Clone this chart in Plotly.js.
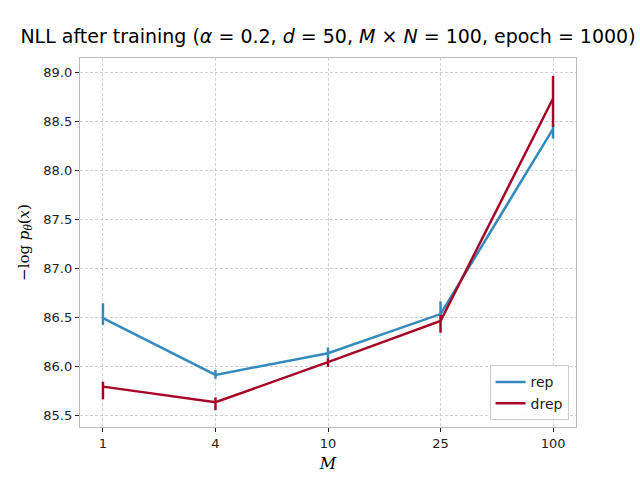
<!DOCTYPE html>
<html>
<head>
<meta charset="utf-8">
<script src="https://cdn.plot.ly/plotly-3.0.1.min.js"></script>
<style>html,body{margin:0;padding:0;background:#fff;}</style>
</head>
<body>
<div id="chart" style="width:640px;height:480px;"></div>
<script>
const categories = ["1", "4", "10", "25", "100"];
const repValues = [86.49, 85.91, 86.13, 86.53, 88.42];
const repErrPlus = [0.15, 0.05, 0.06, 0.13, 0.05];
const repErrMinus = [0.07, 0.04, 0.05, 0.02, 0.10];
const drepValues = [85.79, 85.63, 86.04, 86.46, 88.73];
const drepErrPlus = [0.05, 0.05, 0.04, 0.06, 0.23];
const drepErrMinus = [0.13, 0.08, 0.05, 0.12, 0.29];

const traces = [
  {
    x: categories, y: repValues, name: "rep", type: "scatter", mode: "lines",
    line: {color: "#348ABD", width: 2.5},
    error_y: {type: "data", symmetric: false, array: repErrPlus, arrayminus: repErrMinus,
              color: "#348ABD", thickness: 2.5, width: 0}
  },
  {
    x: categories, y: drepValues, name: "drep", type: "scatter", mode: "lines",
    line: {color: "#A60628", width: 2.5},
    error_y: {type: "data", symmetric: false, array: drepErrPlus, arrayminus: drepErrMinus,
              color: "#A60628", thickness: 2.5, width: 0}
  }
];

const layout = {
  width: 640, height: 480,
  margin: {l: 80, r: 64, t: 58, b: 53},
  paper_bgcolor: "#ffffff", plot_bgcolor: "#ffffff",
  font: {family: "DejaVu Sans", size: 13, color: "#222"},
  title: {
    text: "NLL after training (<i>α</i> = 0.2, <i>d</i> = 50, <i>M</i> × <i>N</i> = 100, epoch = 1000)",
    font: {family: "DejaVu Sans", size: 19, color: "#000"},
    x: 0.5125, xanchor: "center", y: 0.925, yanchor: "middle"
  },
  xaxis: {
    type: "category", range: [-0.204, 4.204],
    title: {text: "<i>M</i>", font: {family: "DejaVu Serif", size: 16, color: "#000"}, standoff: 8},
    showgrid: true, gridcolor: "#bdbdbd", griddash: "3px,2px", gridwidth: 0.7,
    showline: true, linecolor: "#bcbcbc", linewidth: 1.2, mirror: true,
    ticks: "outside", ticklen: 4, tickcolor: "#222", zeroline: false,
    tickfont: {family: "DejaVu Sans", size: 13, color: "#222"}
  },
  yaxis: {
    range: [85.378, 89.143], tickvals: [85.5, 86.0, 86.5, 87.0, 87.5, 88.0, 88.5, 89.0],
    tickformat: ".1f",
    title: {text: "−log <i>p<sub>θ</sub></i>(<i>x</i>)", font: {family: "DejaVu Serif", size: 15, color: "#000"}, standoff: 10},
    showgrid: true, gridcolor: "#bdbdbd", griddash: "3px,2px", gridwidth: 0.7,
    showline: true, linecolor: "#bcbcbc", linewidth: 1.2, mirror: true,
    ticks: "outside", ticklen: 4, tickcolor: "#222", zeroline: false,
    tickfont: {family: "DejaVu Sans", size: 13, color: "#222"}
  },
  showlegend: true,
  legend: {
    x: 0.985, y: 0.018, xanchor: "right", yanchor: "bottom",
    bgcolor: "rgba(255,255,255,0.9)", bordercolor: "#cccccc", borderwidth: 1,
    font: {family: "DejaVu Sans", size: 14, color: "#222"}
  }
};

Plotly.newPlot("chart", traces, layout, {displayModeBar: false, staticPlot: true});
</script>
</body>
</html>
